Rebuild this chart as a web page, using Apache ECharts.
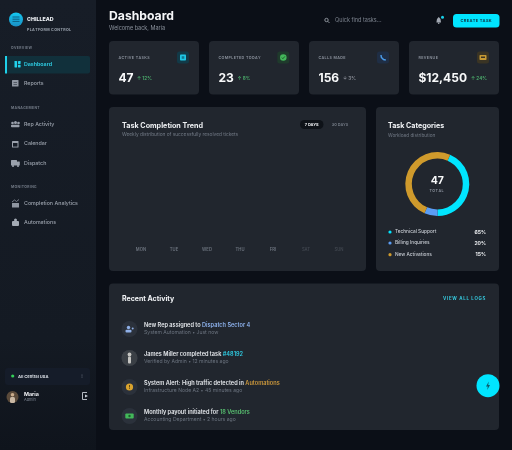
<!DOCTYPE html>
<html>
<head>
<meta charset="utf-8">
<title>Dashboard</title>
<style>
  html, body { margin: 0; padding: 0; background: #0b0f17; }
  #main { width: 512px; height: 450px; }
</style>
<script src="https://cdn.jsdelivr.net/npm/echarts@6/dist/echarts.min.js"></script>
</head>
<body>
<div id="main"></div>
<script>
// chart data
var trendDays = ['MON', 'TUE', 'WED', 'THU', 'FRI', 'SAT', 'SUN'];
var trendValues = [0, 0, 0, 0, 0, 0, 0]; // no bars visible in the reference
var categoryNames = ['Technical Support', 'Billing Inquiries', 'New Activations'];
var categoryLabels = ['65%', '20%', '15%'];
var categoryArcs = [43.3, 6.7, 50]; // ring shares as drawn, they differ from the labels
var categoryColors = ['#00e5ff', '#5b9df5', '#cf9a2c'];
var kpiLabels = ['ACTIVE TASKS', 'COMPLETED TODAY', 'CALLS MADE', 'REVENUE'];
var kpiValues = ['47', '23', '156', '$12,450'];
var kpiDeltas = ['↑ 12%', '↑ 8%', '↓ 3%', '↑ 24%'];

var FONT = 'Inter, sans-serif';
var els = [];

function rect(x, y, w, h, r, fill, z) {
  els.push({ type: 'rect', z: z || 1, silent: true, shape: { x: x, y: y, width: w, height: h, r: r }, style: { fill: fill } });
}
function circle(cx, cy, r, fill, z) {
  els.push({ type: 'circle', z: z || 3, silent: true, shape: { cx: cx, cy: cy, r: r }, style: { fill: fill } });
}
function poly(points, fill) {
  els.push({ type: 'polygon', z: 3, silent: true, shape: { points: points }, style: { fill: fill } });
}
function stroke(points, color, w) {
  els.push({ type: 'polyline', z: 3, silent: true, shape: { points: points }, style: { fill: null, stroke: color, lineWidth: w || 1 } });
}
function text(x, y, str, size, weight, color, align) {
  els.push({
    type: 'text', z: 4, silent: true, x: x, y: y,
    style: { text: str, font: weight + ' ' + size + 'px ' + FONT, fill: color, align: align || 'left', verticalAlign: 'middle' }
  });
}
function richText(x, y, str, rich) {
  els.push({
    type: 'text', z: 4, silent: true, x: x, y: y,
    style: { text: str, rich: rich, verticalAlign: 'middle' }
  });
}
function spaced(x, y, str, size, weight, color, gap) {
  // canvas text has no letter spacing here, so place the letters one by one
  var c = document.createElement('canvas').getContext('2d');
  c.font = weight + ' ' + size + 'px ' + FONT;
  var cur = x;
  for (var i = 0; i < str.length; i++) {
    text(cur, y, str[i], size, weight, color);
    cur += c.measureText(str[i]).width + gap;
  }
}

// page + sidebar
rect(0, 0, 512, 450, 0, '#0b0f17');
rect(0, 0, 96, 450, 0, { type: 'linear', x: 0, y: 0, x2: 0, y2: 1, colorStops: [{ offset: 0, color: '#171d27' }, { offset: 0.75, color: '#141a23' }, { offset: 1, color: '#0f141c' }] });

// logo
circle(16, 19.5, 7, { type: 'linear', x: 0, y: 0, x2: 0, y2: 1, colorStops: [{ offset: 0, color: '#14c8f0' }, { offset: 1, color: '#1a8fc4' }] });
rect(12.5, 16.5, 7, 1, 0, '#0d5f82', 4);
rect(12.5, 18.7, 7, 1, 0, '#0d5f82', 4);
rect(12.5, 20.9, 7, 1, 0, '#0d5f82', 4);
text(27, 19, 'CHILLEAD', 5.3, 800, '#eef1f5');
spaced(27, 30, 'PLATFORM CONTROL', 3.7, 700, '#9aa2ad', 0.3);

// nav
var navSections = [['OVERVIEW', 48], ['MANAGEMENT', 108], ['MONITORING', 187]];
var navItems = [['Dashboard', 64.5], ['Reports', 83.5], ['Rep Activity', 124.5], ['Calendar', 143.7], ['Dispatch', 163], ['Completion Analytics', 203.7], ['Automations', 222.7]];
navSections.forEach(function (s) { spaced(11, s[1], s[0], 3.4, 700, '#737b87', 0.35); });
rect(5, 56, 85, 17.5, 2, '#11303b', 2);
rect(5, 56, 2, 17.5, 0, '#1fd0ea', 3);
navItems.forEach(function (n, i) {
  text(24, n[1], n[0], 5.3, i === 0 ? 600 : 500, i === 0 ? '#2fd3ea' : '#9aa1ac');
});

// nav icons
rect(14.5, 61, 2.6, 6.5, 0.4, '#22d3ee', 3); rect(18, 61, 2.6, 3, 0.4, '#22d3ee', 3); rect(18, 64.7, 2.6, 2.8, 0.4, '#22d3ee', 3);
rect(12, 80, 6.5, 6.5, 0.6, '#8f96a1', 3); rect(13.5, 82, 3.5, 0.7, 0, '#3a414b', 4); rect(13.5, 84, 3.5, 0.7, 0, '#3a414b', 4);
circle(12.5, 123, 1.3, '#9aa1ac'); circle(15.5, 122.5, 1.5, '#9aa1ac'); circle(18.5, 123, 1.3, '#9aa1ac');
rect(11, 124.7, 8.5, 2.5, 0.8, '#9aa1ac', 3);
rect(12, 141, 6.5, 6.5, 0.6, '#9aa1ac', 3); rect(13, 143, 4.5, 3.6, 0, '#171d27', 4);
rect(11, 160, 6, 5.5, 0.5, '#9aa1ac', 3); rect(17, 161.5, 2.8, 4, 0.5, '#9aa1ac', 3);
circle(13, 166, 1.1, '#9aa1ac'); circle(18, 166, 1.1, '#9aa1ac');
rect(12, 203, 7, 4.5, 0.3, '#8f96a1', 3); stroke([[12, 202], [14.5, 200], [16.5, 201.5], [19, 199.5]], '#8f96a1', 0.8);
rect(12, 221, 7, 5, 1, '#a4abb5', 3); circle(15.5, 220, 1.5, '#a4abb5');

// sidebar footer
rect(5, 368, 85, 17, 3, '#151c29', 2);
circle(12.7, 376, 1.6, '#34d058');
text(18, 376.3, 'All Central USA', 4.1, 700, '#d8dde4');
circle(82, 375, 0.5, '#7d8591'); circle(82, 377, 0.5, '#7d8591');
circle(12.5, 397, 6, '#5a4a3a');
circle(12.5, 394.8, 1.8, '#c9ac8c'); rect(10, 397, 5, 6, 1.5, '#c9b8a4', 3);
text(24, 394, 'Maria', 5.3, 700, '#f1f3f6');
text(24, 400, 'Admin', 3.9, 400, '#818995');
stroke([[87, 392.5], [82.5, 392.5], [82.5, 399.5], [87, 399.5]], '#c6ccd4', 0.9);
poly([[85, 394.5], [88, 396], [85, 397.5]], '#c6ccd4');

// header
text(109, 16, 'Dashboard', 12.2, 700, '#f5f6f8');
text(109, 28, 'Welcome back, Maria', 5.5, 400, '#8a919c');
els.push({ type: 'circle', z: 3, silent: true, shape: { cx: 326.5, cy: 20, r: 1.7 }, style: { fill: null, stroke: '#a7adb6', lineWidth: 0.8 } });
stroke([[327.8, 21.3], [329.5, 23]], '#a7adb6', 0.8);
text(335, 20.7, 'Quick find tasks...', 5.5, 400, '#7d848f');
poly([[438.7, 17], [440.5, 19], [441, 22.5], [436.4, 22.5], [437, 19]], '#a2a8b2');
circle(438.7, 23.3, 0.8, '#a2a8b2');
circle(442.5, 17.3, 1.5, '#18cfe8');
rect(453, 14, 46.5, 13.5, 3.5, '#00e5ff', 2);
spaced(460.5, 20.9, 'CREATE TASK', 4, 700, '#0b3a48', 0.3);

// kpi cards
var kpiX = [109, 209, 309, 409];
var kpiIconX = [183, 283.3, 383, 483];
var kpiIconBg = ['#123a48', '#1f3a2c', '#1f2e45', '#3a3424'];
var kpiDeltaX = [137, 237.5, 343, 471];
var kpiDeltaColor = ['#4caf6d', '#4caf6d', '#8b8f98', '#4caf6d'];
kpiLabels.forEach(function (lab, i) {
  rect(kpiX[i], 41, 90, 53.5, 4, '#21262e');
  spaced(kpiX[i] + 9.5, 57.5, lab, 3.7, 600, '#8c939e', 0.35);
  rect(kpiIconX[i] - 6, 51.5, 12, 12, 2.5, kpiIconBg[i], 2);
  text(kpiX[i] + 9.5, 78, kpiValues[i], 12, 700, '#f8f9fa');
  text(kpiDeltaX[i], 79, kpiDeltas[i], 4.7, 600, kpiDeltaColor[i]);
});
rect(180, 54.5, 6, 6, 0.8, '#1fc7e6', 3); rect(181.7, 56.2, 2.6, 2.6, 0, '#117a92', 4);
circle(283.3, 57.5, 3.3, '#43b85a');
stroke([[281.8, 57.6], [282.9, 58.7], [284.9, 56.4]], '#143a20', 0.7);
stroke([[381, 55], [381.4, 57.5], [383.5, 59.6], [385.8, 60]], '#4a9be8', 1.5);
rect(479.5, 55, 7, 5, 0.8, '#c79a34', 3); rect(481, 56.5, 4, 1.5, 0, '#3a3424', 4);

// trend card
rect(109, 107, 257, 164, 4, '#21262e');
text(122, 125.7, 'Task Completion Trend', 7.2, 700, '#eef0f3');
text(122, 134.5, 'Weekly distribution of successfully resolved tickets', 4.8, 400, '#737b87');
rect(300, 120, 23.5, 9, 4.5, '#0e1218', 2);
text(311.7, 124.8, '7 DAYS', 3.9, 700, '#eef0f3', 'center');
text(340, 124.8, '30 DAYS', 3.9, 600, '#767d88', 'center');

// categories card
rect(376, 107, 123, 164, 4, '#21262e');
text(388, 125.5, 'Task Categories', 7.1, 700, '#f1f3f6');
text(388, 136, 'Workload distribution', 4.7, 400, '#737b87');
text(437.3, 181, '47', 10.5, 700, '#f8f9fa', 'center');
spaced(429.5, 190.5, 'TOTAL', 3.7, 600, '#8c939e', 0.4);
var legendY = [232, 243, 254.7];
categoryNames.forEach(function (name, i) {
  circle(390, legendY[i], 1.6, categoryColors[i]);
  text(395, legendY[i], name, 4.75, 500, '#c5cad1');
  text(486, legendY[i], categoryLabels[i], 5, 700, '#eef0f3', 'right');
});

// activity card
rect(109, 283.5, 390, 146.5, 4, '#21262e');
text(122, 298.7, 'Recent Activity', 7, 700, '#f1f3f6');
spaced(443, 298.7, 'VIEW ALL LOGS', 4.4, 700, '#35c8dd', 0.7);
var rowY = [329, 358, 387, 416];
var rowSubs = ['System Automation • Just now', 'Verified by Admin • 12 minutes ago', 'Infrastructure Node A2 • 45 minutes ago', 'Accounting Department • 2 hours ago'];
var rowRich = [
  '{a|New Rep assigned to }{b|Dispatch Sector 4}',
  '{a|James Miller completed task }{c|#48192}',
  '{a|System Alert: High traffic detected in }{d|Automations}',
  '{a|Monthly payout initiated for }{e|18 Vendors}'
];
function seg(color) { return { font: '600 5.6px ' + FONT, fill: color, fontWeight: 600, fontSize: 5.6, fontFamily: 'Inter' }; }
var rich = { a: seg('#e6e9ed'), b: seg('#8fb4f0'), c: seg('#2fd0e8'), d: seg('#cf9a3c'), e: seg('#58bf70') };
rowY.forEach(function (y, i) {
  circle(129.5, y, 8, '#2b313b', 2);
  richText(144, y - 3.5, rowRich[i], rich);
  text(144, y + 3.7, rowSubs[i], 5.1, 400, '#6b737f');
});
circle(128.5, 327.5, 1.7, '#8fb0e8'); rect(125.5, 329.8, 6, 2.6, 1, '#8fb0e8', 3); circle(132.7, 328.5, 1, '#8fb0e8');
circle(129.5, 358, 8, '#3a3f45', 3); circle(129.5, 354.5, 1.9, '#c5c5c2'); rect(128, 356.5, 3, 7, 1, '#c5c5c2', 4);
circle(129.5, 387, 3.6, '#d9a32e'); rect(129.1, 385, 0.8, 2.4, 0, '#3d2f10', 4); rect(129.1, 388, 0.8, 0.8, 0, '#3d2f10', 4);
rect(125.3, 413.5, 8.4, 5, 1, '#43b85a', 3); circle(129.5, 416, 1.2, '#1d5c2c');

// quick action button
circle(488, 385.7, 11.5, '#00e5ff', 5);
els.push({ type: 'polygon', z: 6, silent: true, shape: { points: [[488.8, 381.5], [486, 386.5], [487.8, 386.5], [487.2, 390], [490, 385], [488.2, 385]] }, style: { fill: '#0e5c6c' } });

var chart = echarts.init(document.getElementById('main'), null, { renderer: 'canvas' });
var option = {
  backgroundColor: '#0b0f17',
  animation: false,
  graphic: { elements: els },
  grid: { left: 124.5, top: 150, width: 231, height: 93, containLabel: false },
  xAxis: {
    type: 'category',
    z: 5,
    data: trendDays.map(function (d, i) {
      return { value: d, textStyle: { color: i > 4 ? '#40464f' : '#6d747f' } };
    }),
    axisLine: { show: false },
    axisTick: { show: false },
    axisLabel: { fontSize: 4.2, fontWeight: 600, fontFamily: 'Inter', margin: 5 }
  },
  yAxis: { type: 'value', min: 0, max: 100, show: false },
  series: [
    { type: 'bar', data: trendValues, barWidth: 18, itemStyle: { color: '#00e5ff' }, silent: true, z: 5 },
    {
      type: 'pie',
      z: 5,
      silent: true,
      center: [437.3, 184],
      radius: [25.5, 32],
      startAngle: 66.4,
      label: { show: false },
      labelLine: { show: false },
      data: categoryArcs.map(function (v, i) {
        return { name: categoryNames[i], value: v, itemStyle: { color: categoryColors[i] } };
      })
    }
  ]
};
chart.setOption(option);
</script>
</body>
</html>
